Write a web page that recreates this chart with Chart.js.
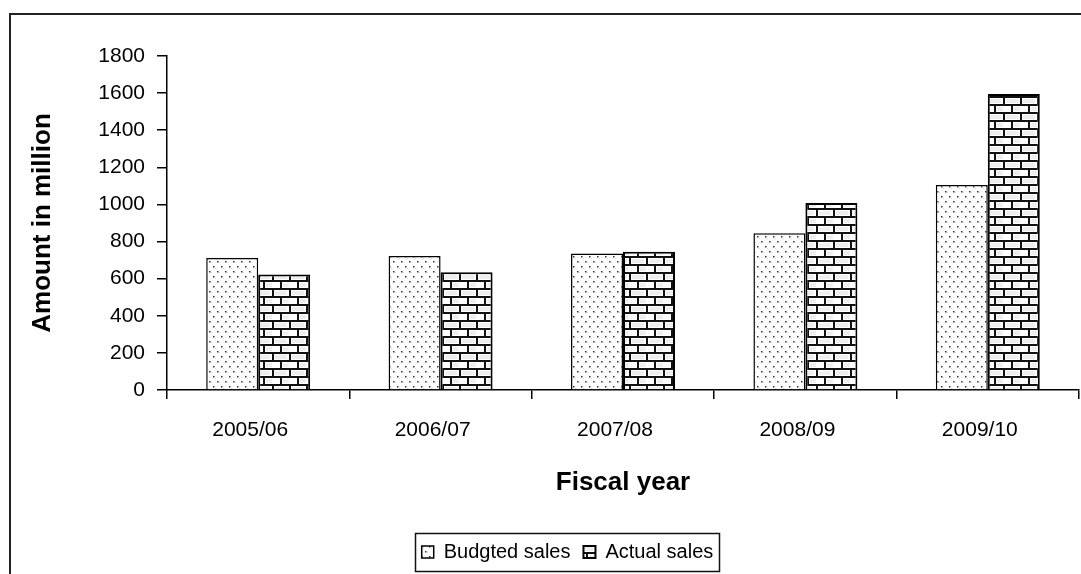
<!DOCTYPE html>
<html>
<head>
<meta charset="utf-8">
<script src="https://cdn.jsdelivr.net/npm/chart.js@4.4.0/dist/chart.umd.min.js"></script>
<style>
  html, body { margin: 0; padding: 0; background: #fff; }
  #wrap { width: 1081px; height: 574px; }
</style>
</head>
<body>
<div id="wrap"><canvas id="chart" width="1081" height="574"></canvas></div>
<script>
'use strict';

var years = ['2005/06', '2006/07', '2007/08', '2008/09', '2009/10'];
var budgetedSales = [712, 722, 735, 845, 1105];
var actualSales = [622, 635, 745, 1008, 1595];
var yTicks = [0, 200, 400, 600, 800, 1000, 1200, 1400, 1600, 1800];

// little dotted fill, like the old excel pattern
function dotPattern() {
  var c = document.createElement('canvas');
  c.width = 8; c.height = 10;
  var g = c.getContext('2d');
  g.fillStyle = '#fff';
  g.fillRect(0, 0, 8, 10);
  g.fillStyle = '#d8d8d8';
  g.fillRect(3, 2, 1, 1);
  g.fillRect(7, 8, 1, 1);
  g.fillStyle = '#333';
  g.fillRect(1, 1, 1.5, 1.5);
  g.fillRect(5, 6, 1.5, 1.5);
  return g.createPattern(c, 'repeat');
}

// brick wall fill
function brickPattern() {
  var c = document.createElement('canvas');
  c.width = 17; c.height = 16;
  var g = c.getContext('2d');
  g.fillStyle = '#fff';
  g.fillRect(0, 0, 17, 16);
  g.fillStyle = '#eee';
  g.fillRect(3, 3, 12, 4);
  g.fillRect(11, 11, 12, 4);
  g.fillStyle = '#111';
  g.fillRect(0, 0, 17, 2);
  g.fillRect(0, 8, 17, 2);
  g.fillRect(0, 0, 2, 8);
  g.fillRect(8, 8, 2, 8);
  return g.createPattern(c, 'repeat');
}

var LEGEND_SHIFT = 18;

var frame = {
  id: 'frame',
  afterLayout: function(chart) {
    // legend sits a bit right of centre in the original
    var lg = chart.legend;
    lg.left += LEGEND_SHIFT;
    lg.right += LEGEND_SHIFT;
    (lg.legendHitBoxes || []).forEach(function(h) { h.left += LEGEND_SHIFT; });
  },
  afterDraw: function(chart) {
    var ctx = chart.ctx;
    ctx.save();
    ctx.strokeStyle = '#222';
    ctx.lineWidth = 2;
    ctx.strokeRect(10, 14, 1200, 700);
    // box round the legend
    var boxes = chart.legend.legendHitBoxes;
    if (boxes && boxes.length) {
      var l = Infinity, r = -Infinity, t = Infinity, b = -Infinity;
      boxes.forEach(function(h) {
        l = Math.min(l, h.left); r = Math.max(r, h.left + h.width);
        t = Math.min(t, h.top); b = Math.max(b, h.top + h.height);
      });
      ctx.lineWidth = 1.5;
      ctx.strokeStyle = '#111';
      ctx.strokeRect(Math.round(l - 7) + 0.5, Math.round(t - 9) + 0.5, Math.round(r - l + 12), Math.round(b - t + 18));
    }
    ctx.restore();
  }
};

Chart.defaults.font.family = '"Liberation Sans", Arial, sans-serif';
Chart.defaults.color = '#000';

new Chart(document.getElementById('chart'), {
  type: 'bar',
  data: {
    labels: years,
    datasets: [{
      label: 'Budgted sales',
      data: budgetedSales,
      backgroundColor: dotPattern(),
      borderColor: '#000',
      borderWidth: 1.5,
      categoryPercentage: 0.57,
      barPercentage: 1.0
    }, {
      label: 'Actual sales',
      data: actualSales,
      backgroundColor: brickPattern(),
      borderColor: '#000',
      borderWidth: 2,
      categoryPercentage: 0.57,
      barPercentage: 1.0
    }]
  },
  options: {
    responsive: false,
    animation: false,
    layout: { padding: { left: 20, right: 2, top: 56, bottom: 2 } },
    plugins: {
      tooltip: { enabled: false },
      legend: {
        position: 'bottom',
        labels: {
          font: { size: 20 },
          boxWidth: 12,
          boxHeight: 12,
          padding: 13,
          color: '#000'
        }
      }
    },
    scales: {
      x: {
        afterFit: function(scale) { scale.height = 139; },
        grid: { offset: true, drawOnChartArea: false, color: '#000', tickLength: 9, lineWidth: 1.5 },
        border: { color: '#000', width: 1.5 },
        ticks: { font: { size: 21 }, padding: 19, labelOffset: -8, color: '#000' },
        title: { display: true, text: 'Fiscal year', font: { size: 26, weight: 'bold' }, padding: { top: 0, bottom: 31 } }
      },
      y: {
        min: 0,
        max: 1800,
        afterFit: function(scale) { scale.width = 147; },
        afterBuildTicks: function(scale) {
          scale.ticks = yTicks.map(function(v) { return { value: v }; });
        },
        grid: { drawOnChartArea: false, color: '#000', tickLength: 10, lineWidth: 1.5 },
        border: { color: '#000', width: 1.5 },
        ticks: {
          font: { size: 21 }, padding: 12, color: '#000',
          callback: function(v) { return String(v); }
        },
        title: { display: true, text: 'Amount in million', font: { size: 26, weight: 'bold' }, padding: { top: 7, bottom: 10 } }
      }
    }
  },
  plugins: [frame]
});
</script>
</body>
</html>
